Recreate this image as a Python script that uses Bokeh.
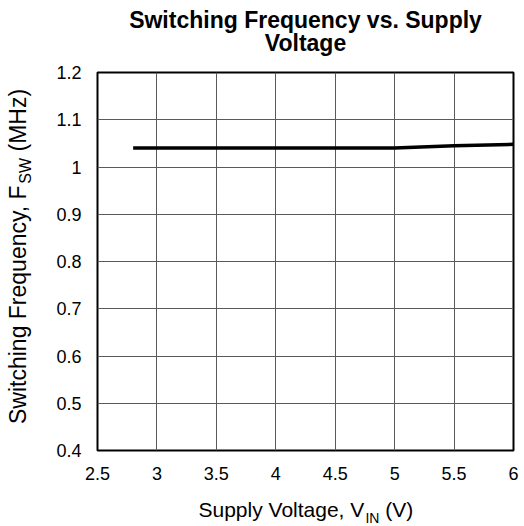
import math
from bokeh.plotting import figure
from bokeh.models import Range1d, FixedTicker, Label
from bokeh.layouts import column, row
from bokeh.embed import file_html
from bokeh.resources import INLINE

# ---- data ----
voltage = [2.8, 3.0, 3.5, 4.0, 4.5, 5.0, 5.5, 6.0]
freq_mhz = [1.040, 1.040, 1.040, 1.040, 1.040, 1.040, 1.045, 1.048]

x_ticks = [2.5, 3.0, 3.5, 4.0, 4.5, 5.0, 5.5, 6.0]
x_tick_labels = ["2.5", "3", "3.5", "4", "4.5", "5", "5.5", "6"]
y_ticks = [0.4, 0.5, 0.6, 0.7, 0.8, 0.9, 1.0, 1.1, 1.2]
y_tick_labels = ["0.4", "0.5", "0.6", "0.7", "0.8", "0.9", "1", "1.1", "1.2"]

title_lines = ["Switching Frequency vs. Supply", "Voltage"]
x_label_parts = ["Supply Voltage, V", "IN", " (V)"]
y_label_parts = ["Switching Frequency, F", "SW", " (MHz)"]

FONT = "Liberation Sans"

# Arial / Liberation Sans advance widths (per 1000 em) for laying out composite labels
W = {" ": 278, "(": 333, ")": 333, ",": 278, ".": 278, "S": 667, "V": 667, "F": 611,
     "M": 833, "H": 722, "I": 278, "N": 722, "W": 944, "u": 556, "p": 556, "l": 222,
     "y": 500, "o": 556, "t": 278, "a": 556, "g": 556, "e": 556, "w": 722, "i": 222,
     "c": 500, "h": 556, "n": 556, "r": 333, "q": 556, "z": 500}
BASE_SHIFT = 0.38  # label box offset relative to the alphabetic baseline (em)


def tw(s, size):
    return sum(W.get(c, 556) for c in s) * size / 1000.0


def split_lead(s):
    """Leading blanks are collapsed in SVG text, so turn them into an offset."""
    stripped = s.lstrip(" ")
    return stripped, len(s) - len(stripped)


def blank(width, height):
    f = figure(width=width, height=height, output_backend="svg", toolbar_location=None,
               x_axis_type=None, y_axis_type=None, min_border=0,
               x_range=Range1d(0, 1), y_range=Range1d(0, 1))
    f.outline_line_color = None
    f.background_fill_color = "white"
    f.border_fill_color = "white"
    f.grid.visible = False
    return f


TOTAL_W, TOTAL_H = 524, 526
TITLE_H = 58
YLAB_W = 48
MAIN_W = TOTAL_W - YLAB_W
B_LEFT, B_TOP, B_BOTTOM = 49, 14, 36
FRAME_W, FRAME_H = 416, 378
MAIN_H = B_TOP + FRAME_H + B_BOTTOM
XLAB_H = TOTAL_H - TITLE_H - MAIN_H

# ---- main plot ----
p = figure(width=MAIN_W, height=MAIN_H, output_backend="svg", toolbar_location=None,
           x_range=Range1d(x_ticks[0], x_ticks[-1]), y_range=Range1d(y_ticks[0], y_ticks[-1]),
           min_border_left=B_LEFT, min_border_right=MAIN_W - B_LEFT - FRAME_W,
           min_border_top=B_TOP, min_border_bottom=B_BOTTOM)
p.title.visible = False
p.background_fill_color = "white"
p.border_fill_color = "white"
p.outline_line_color = "black"
p.outline_line_width = 2

p.xaxis.ticker = FixedTicker(ticks=x_ticks)
p.yaxis.ticker = FixedTicker(ticks=y_ticks)
p.xaxis.major_label_overrides = {t: s for t, s in zip(x_ticks, x_tick_labels)}
p.yaxis.major_label_overrides = {t: s for t, s in zip(y_ticks, y_tick_labels)}

for ax in (p.xaxis, p.yaxis):
    ax.axis_line_color = None
    ax.major_tick_line_color = None
    ax.minor_tick_line_color = None
    ax.major_tick_out = 0
    ax.major_tick_in = 0
    ax.major_label_text_font = FONT
    ax.major_label_text_font_size = "18px"
    ax.major_label_text_color = "black"
p.xaxis.major_label_standoff = 16
p.yaxis.major_label_standoff = 16

p.xgrid.grid_line_color = "#5a5a5a"
p.ygrid.grid_line_color = "#5a5a5a"
p.xgrid.grid_line_width = 1
p.ygrid.grid_line_width = 1

p.line(voltage, freq_mhz, line_color="black", line_width=3.5)

# ---- title (two centred bold lines) ----
TITLE_SIZE = 23
t = blank(TOTAL_W, TITLE_H)
for line, base in zip(title_lines, [28, 51]):
    t.add_layout(Label(x=305, y=TITLE_H - base + BASE_SHIFT * TITLE_SIZE,
                       x_units="screen", y_units="screen",
                       text=line, text_align="center", text_baseline="alphabetic",
                       text_font=FONT, text_font_size=f"{TITLE_SIZE}px", text_font_style="bold",
                       text_color="black"))

# ---- x axis label with subscript ----
xl = blank(TOTAL_W, XLAB_H)
LS, SS = 21, 14
xx = 198.0
for part, sz, base in zip(x_label_parts, [LS, SS, LS], [517, 523, 517]):
    txt, nlead = split_lead(part)
    xx += tw(" " * nlead, sz)
    xl.add_layout(Label(x=xx, y=(TOTAL_H - base) + BASE_SHIFT * sz,
                        x_units="screen", y_units="screen", text=txt,
                        text_align="left", text_baseline="alphabetic", text_font=FONT,
                        text_font_size=f"{sz}px", text_color="black"))
    xx += tw(txt, sz)

# ---- y axis label (rotated) with subscript ----
yl = blank(YLAB_W, MAIN_H)
YS, YSS = 23, 16
ROT_SHIFT = 36.5
yy = (TITLE_H + MAIN_H - 423) - ROT_SHIFT
for part, sz, bx in zip(y_label_parts, [YS, YSS, YS], [26, 31, 26]):
    txt, nlead = split_lead(part)
    yy += tw(" " * nlead, sz)
    yl.add_layout(Label(x=bx - BASE_SHIFT * sz, y=yy, x_units="screen", y_units="screen", text=txt,
                        angle=math.pi / 2, text_align="left", text_baseline="alphabetic",
                        text_font=FONT, text_font_size=f"{sz}px", text_color="black"))
    yy += tw(txt, sz)

layout = column(t, row(yl, p), xl)
open("out.html", "w").write(file_html(layout, INLINE))
